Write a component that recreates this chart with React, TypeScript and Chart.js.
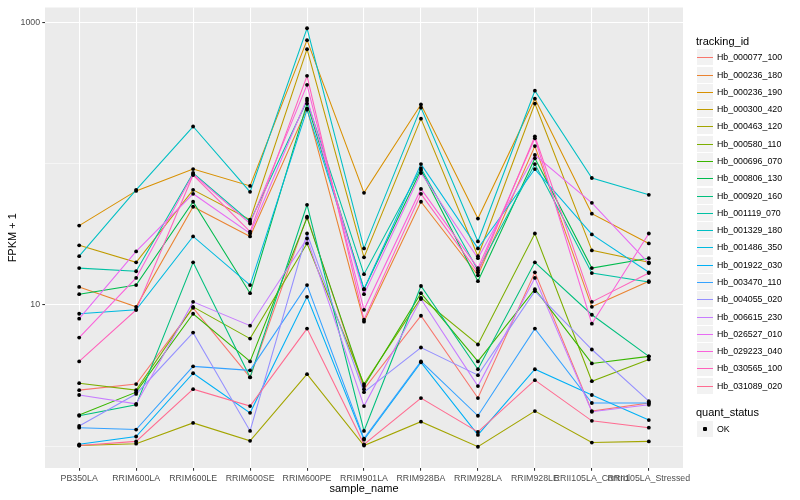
import React, { useEffect, useRef } from "react";
import { Chart, registerables } from "chart.js";

Chart.register(...registerables);

const FONT = '"Liberation Sans", Arial, Helvetica, sans-serif';

const categories = [
  "PB350LA",
  "RRIM600LA",
  "RRIM600LE",
  "RRIM600SE",
  "RRIM600PE",
  "RRIM901LA",
  "RRIM928BA",
  "RRIM928LA",
  "RRIM928LE",
  "RRII105LA_Control",
  "RRII105LA_Stressed",
];

const yTickValues = [1, 10, 100, 1000];
const yTickLabels = ["", "10", "", "1000"];

const seriesNames = [
  "Hb_000077_100",
  "Hb_000236_180",
  "Hb_000236_190",
  "Hb_000300_420",
  "Hb_000463_120",
  "Hb_000580_110",
  "Hb_000696_070",
  "Hb_000806_130",
  "Hb_000920_160",
  "Hb_001119_070",
  "Hb_001329_180",
  "Hb_001486_350",
  "Hb_001922_030",
  "Hb_003470_110",
  "Hb_004055_020",
  "Hb_006615_230",
  "Hb_026527_010",
  "Hb_029223_040",
  "Hb_030565_100",
  "Hb_031089_020",
];

const seriesColors = [
  "#F8766D", "#EA8331", "#D89000", "#C09B00", "#A3A500",
  "#7CAE00", "#39B600", "#00BB4E", "#00BF7D", "#00C1A3",
  "#00BFC4", "#00BAE0", "#00B0F6", "#35A2FF", "#9590FF",
  "#C77CFF", "#E76BF3", "#FA62DB", "#FF62BC", "#FF6C91",
];

const hb_000077_100 = [2.49, 2.75, 9.53, 3.07, 42.1, 2.53, 8.37, 2.19, 17.0, 1.77, 2.02];
const hb_000236_180 = [13.4, 9.68, 49.5, 30.5, 245, 7.6, 53.7, 16.2, 133, 9.68, 14.7];
const hb_000236_190 = [36.4, 64.1, 91.5, 69.5, 748, 62.1, 262, 40.8, 288, 44.2, 27.2];
const hb_000300_420 = [26.4, 20.0, 65.2, 40.1, 646, 21.7, 208, 22.1, 266, 24.3, 20.0];
const hb_000463_120 = [1.01, 1.04, 1.46, 1.09, 3.23, 1.01, 1.49, 0.99, 1.77, 1.06, 1.08];
const hb_000580_110 = [2.79, 2.49, 9.68, 5.77, 27.2, 2.75, 11.2, 5.24, 32.0, 2.88, 4.11];
const hb_000696_070 = [1.66, 2.41, 8.65, 3.98, 41.4, 2.66, 12.1, 3.98, 12.9, 3.85, 4.32];
const hb_000806_130 = [11.9, 13.8, 53.7, 12.1, 266, 12.9, 90.0, 14.7, 109, 18.2, 21.4];
const hb_000920_160 = [1.64, 1.96, 20.0, 3.07, 51.1, 1.28, 13.6, 3.5, 20.0, 8.51, 4.32];
const hb_001119_070 = [18.2, 17.3, 85.8, 38.8, 279, 16.5, 92.9, 17.6, 99.2, 16.8, 14.5];
const hb_001329_180 = [22.1, 65.2, 183, 63.1, 908, 25.1, 249, 28.1, 328, 79.1, 60.1];
const hb_001486_350 = [8.65, 9.22, 30.5, 13.8, 241, 12.9, 99.2, 25.1, 91.5, 31.5, 17.0];
const hb_001922_030 = [1.03, 1.17, 3.28, 1.72, 11.4, 1.11, 3.92, 1.2, 3.5, 2.3, 1.53];
const hb_003470_110 = [1.35, 1.31, 3.67, 3.44, 13.8, 1.13, 3.98, 1.64, 6.79, 2.02, 2.02];
const hb_004055_020 = [1.39, 2.34, 6.36, 1.28, 32.0, 2.41, 4.99, 3.18, 12.5, 4.83, 2.08];
const hb_006615_230 = [2.3, 1.99, 10.5, 7.12, 29.5, 1.92, 11.0, 2.66, 15.5, 1.75, 1.96];
const hb_026527_010 = [7.98, 23.9, 61.1, 32.0, 288, 11.9, 85.8, 21.4, 115, 52.8, 19.7];
const hb_029223_040 = [5.87, 15.5, 84.4, 37.6, 361, 9.22, 66.2, 18.2, 151, 7.36, 32.0];
const hb_030565_100 = [3.98, 9.22, 83.0, 33.0, 418, 7.85, 61.1, 17.0, 156, 10.5, 16.8];
const hb_031089_020 = [1.01, 1.08, 2.53, 1.92, 6.79, 1.03, 2.19, 1.26, 2.93, 1.51, 1.35];

const seriesValues = [
  hb_000077_100, hb_000236_180, hb_000236_190, hb_000300_420, hb_000463_120,
  hb_000580_110, hb_000696_070, hb_000806_130, hb_000920_160, hb_001119_070,
  hb_001329_180, hb_001486_350, hb_001922_030, hb_003470_110, hb_004055_020,
  hb_006615_230, hb_026527_010, hb_029223_040, hb_030565_100, hb_031089_020,
];

const statusLabels = ["OK"];

const panelBackground = {
  id: "panelBackground",
  beforeDraw(chart: any) {
    const { ctx, chartArea } = chart;
    if (!chartArea) return;
    ctx.save();
    ctx.fillStyle = "#EBEBEB";
    ctx.fillRect(chartArea.left, chartArea.top, chartArea.right - chartArea.left, chartArea.bottom - chartArea.top);
    ctx.restore();
  },
};

function isMajor(v: number) {
  const i = yTickValues.indexOf(v);
  return i >= 0 && yTickLabels[i] !== "";
}

export default function App() {
  const canvasRef = useRef<HTMLCanvasElement | null>(null);

  useEffect(() => {
    document.body.style.margin = "0";
    const canvas = canvasRef.current;
    if (!canvas) return;

    const lineDatasets = seriesNames.map((name, i) => ({
      label: name,
      data: seriesValues[i].map((y, x) => ({ x, y })),
      showLine: true,
      borderColor: seriesColors[i],
      backgroundColor: seriesColors[i],
      borderWidth: 1.07,
      pointRadius: 0,
      pointHoverRadius: 0,
      tension: 0,
      order: 100 - i,
    }));

    const pointDataset = {
      label: statusLabels[0],
      data: seriesValues.flatMap((vals) => vals.map((y, x) => ({ x, y }))),
      showLine: false,
      backgroundColor: "#000000",
      borderColor: "#000000",
      borderWidth: 0,
      pointRadius: 1.9,
      pointHoverRadius: 1.9,
      order: 0,
    };

    const chart = new Chart(canvas, {
      type: "scatter",
      data: { datasets: [...lineDatasets, pointDataset] as any },
      plugins: [panelBackground],
      options: {
        animation: false,
        responsive: true,
        maintainAspectRatio: false,
        events: [],
        layout: { padding: { left: 0, top: 5, right: 117, bottom: 0 } },
        plugins: {
          legend: { display: false },
          tooltip: { enabled: false },
        },
        scales: {
          x: {
            type: "linear",
            min: -0.6,
            max: 10.6,
            afterBuildTicks: (s: any) => {
              s.ticks = categories.map((_, i) => ({ value: i }));
            },
            afterFit: (s: any) => {
              s.height = 32;
            },
            ticks: {
              autoSkip: false,
              maxRotation: 0,
              minRotation: 0,
              padding: 2.2,
              color: "#4D4D4D",
              font: { family: FONT, size: 8.8 },
              callback: (v: any) => categories[Math.round(Number(v))] ?? "",
            },
            grid: {
              color: "#FFFFFF",
              lineWidth: 1.07,
              tickColor: "#333333",
              tickLength: 2.7,
              tickWidth: 1.07,
            },
            border: { display: false },
            title: {
              display: true,
              text: "sample_name",
              color: "#000000",
              font: { family: FONT, size: 11 },
              padding: { top: 0, bottom: 4.5 },
            },
          },
          y: {
            type: "logarithmic",
            min: 0.718,
            max: 1274,
            afterBuildTicks: (s: any) => {
              s.ticks = yTickValues.map((value) => ({ value }));
            },
            afterFit: (s: any) => {
              s.width = 45;
            },
            ticks: {
              autoSkip: false,
              padding: 2.2,
              color: "#4D4D4D",
              font: { family: FONT, size: 8.8 },
              callback: (v: any) => {
                const i = yTickValues.indexOf(Number(v));
                return i >= 0 ? yTickLabels[i] : "";
              },
            },
            grid: {
              color: "#FFFFFF",
              lineWidth: (ctx: any) => (ctx.tick && isMajor(ctx.tick.value) ? 1.07 : 0.53),
              tickColor: (ctx: any) => (ctx.tick && isMajor(ctx.tick.value) ? "#333333" : "rgba(0,0,0,0)"),
              tickLength: 2.7,
              tickWidth: 1.07,
            },
            border: { display: false },
            title: {
              display: true,
              text: "FPKM + 1",
              color: "#000000",
              font: { family: FONT, size: 11 },
              padding: { top: 6.4, bottom: 0 },
            },
          },
        },
      } as any,
    });

    return () => {
      chart.destroy();
    };
  }, []);

  const keySize = 17.28;
  const legendLeft = 697;
  const firstCenter = 57.3;

  return (
    <div style={{ position: "relative", width: 800, height: 500, fontFamily: FONT, background: "#FFFFFF" }}>
      <canvas ref={canvasRef} style={{ position: "absolute", left: 0, top: 0, width: 800, height: 500 }} />
      <div
        style={{
          position: "absolute",
          left: 696,
          top: 41 - 8,
          height: 16,
          lineHeight: "16px",
          fontSize: 11,
          color: "#000",
          whiteSpace: "nowrap",
        }}
      >
        tracking_id
      </div>
      {seriesNames.map((name, i) => {
        const c = firstCenter + keySize * i;
        const boxTop = Math.round(c - 8);
        return (
          <React.Fragment key={name}>
            <div
              style={{
                position: "absolute",
                left: legendLeft,
                top: boxTop,
                width: 16,
                height: 16,
                background: "#F2F2F2",
              }}
            >
              <div
                style={{
                  position: "absolute",
                  left: 0,
                  width: 16,
                  top: 8,
                  height: 1,
                  background: seriesColors[i],
                }}
              />
            </div>
            <div
              style={{
                position: "absolute",
                left: 717,
                top: boxTop + 2,
                height: 12,
                lineHeight: "12px",
                fontSize: 8.8,
                color: "#000",
                whiteSpace: "nowrap",
              }}
            >
              {name}
            </div>
          </React.Fragment>
        );
      })}
      <div
        style={{
          position: "absolute",
          left: 696,
          top: 412 - 8,
          height: 16,
          lineHeight: "16px",
          fontSize: 11,
          color: "#000",
          whiteSpace: "nowrap",
        }}
      >
        quant_status
      </div>
      {statusLabels.map((s) => (
        <React.Fragment key={s}>
          <div
            style={{
              position: "absolute",
              left: legendLeft,
              top: 421,
              width: 16,
              height: 16,
              background: "#F2F2F2",
            }}
          >
            <div
              style={{
                position: "absolute",
                left: 6,
                top: 6,
                width: 4,
                height: 4,
                borderRadius: "1px",
                background: "#000",
              }}
            />
          </div>
          <div
            style={{
              position: "absolute",
              left: 717,
              top: 423,
              height: 12,
              lineHeight: "12px",
              fontSize: 8.8,
              color: "#000",
              whiteSpace: "nowrap",
            }}
          >
            {s}
          </div>
        </React.Fragment>
      ))}
    </div>
  );
}
